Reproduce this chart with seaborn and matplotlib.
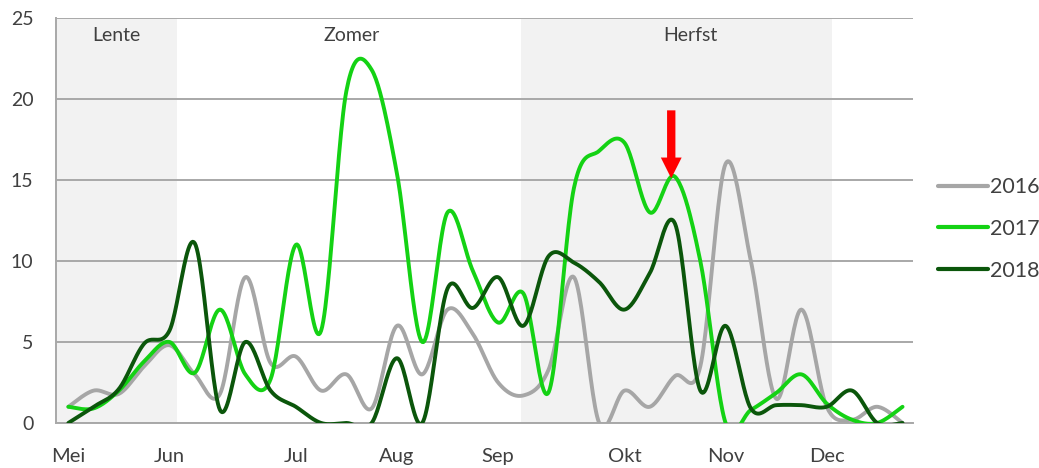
import matplotlib
matplotlib.use("Agg")
import matplotlib.pyplot as plt
import numpy as np
import pandas as pd
import seaborn as sns
from matplotlib.lines import Line2D

# weekly values (first week of May .. end of December)
y2016 = [1.0, 2.0, 1.8, 3.5, 4.8, 3.0, 1.8, 9.0, 3.7, 4.1, 2.0, 3.0, 0.9, 6.0, 3.0, 7.0, 5.5,
         2.5, 1.7, 3.3, 9.0, 0.0, 2.0, 1.0, 2.9, 3.5, 16.0, 10.0, 1.5, 7.0, 1.0, 0.2, 1.0, 0.0]
y2017 = [1.0, 0.9, 2.0, 3.8, 5.0, 3.1, 7.0, 3.0, 2.7, 11.0, 5.7, 20.5, 21.8, 15.4, 5.0, 13.0, 9.4,
         6.2, 8.0, 1.9, 14.5, 16.8, 17.3, 13.0, 15.2, 10.0, 0.0, 0.8, 1.85, 3.0, 1.2, 0.2, 0.0, 1.0]
y2018 = [0.0, 1.0, 2.1, 4.9, 5.7, 11.1, 0.8, 5.0, 2.0, 1.0, 0.0, 0.0, 0.0, 4.0, 0.0, 8.3, 7.1,
         9.0, 6.0, 10.3, 9.9, 8.7, 7.0, 9.25, 12.3, 2.0, 6.0, 0.9, 1.1, 1.1, 1.0, 2.0, 0.0, 0.0]

years = ["2016", "2017", "2018"]
colors = ["#a6a6a6", "#14d214", "#0b560b"]

month_names = ["Mei", "Jun", "Jul", "Aug", "Sep", "Okt", "Nov", "Dec"]
month_weeks = [0, 4, 9, 13, 17, 22, 26, 30]

season_names = ["Lente", "Zomer", "Herfst"]
season_label_x = [1.9, 11.2, 24.6]
shaded_spans = [(-0.5, 4.3), (17.9, 30.2)]

arrow_week = 23.85
arrow_value = 15.1


def smooth(values, n=24):
    """Excel-style smoothed line: cubic Bezier through each pair of points."""
    pts = np.column_stack([np.arange(len(values)), np.asarray(values, float)])
    last = len(pts) - 1
    t = np.linspace(0, 1, n, endpoint=False)[:, None]
    segs = []
    for i in range(last):
        p0, p1, p2, p3 = pts[max(i - 1, 0)], pts[i], pts[i + 1], pts[min(i + 2, last)]
        c1 = p1 + (p2 - p0) / 6
        c2 = p2 - (p3 - p1) / 6
        segs.append((1 - t) ** 3 * p1 + 3 * (1 - t) ** 2 * t * c1
                    + 3 * (1 - t) * t ** 2 * c2 + t ** 3 * p2)
    segs.append(pts[-1:])
    return np.vstack(segs)


frames = []
for year, vals in zip(years, [y2016, y2017, y2018]):
    c = smooth(vals)
    frames.append(pd.DataFrame({"week": c[:, 0], "value": c[:, 1], "year": year}))
df = pd.concat(frames, ignore_index=True)

sns.set_theme(style="white")
plt.rcParams["font.family"] = ["Lato", "DejaVu Sans"]
text_color = "#404040"

fig = plt.figure(figsize=(10.39, 4.68), dpi=100)
ax = fig.add_axes([0.0536, 0.0962, 0.8248, 0.8653])

for a, b in shaded_spans:
    ax.axvspan(a, b, color="#f2f2f2", zorder=0, lw=0)

ax.set_axisbelow(True)
ax.yaxis.grid(True, color="#a8a8a8", lw=1.4, zorder=1)

sns.lineplot(data=df, x="week", y="value", hue="year", palette=colors,
             estimator=None, sort=False, lw=2.8, legend=False, ax=ax, zorder=3)

ax.set_xlim(-0.5, 33.4)
ax.set_ylim(0, 25)
ax.set_yticks([0, 5, 10, 15, 20, 25])
ax.set_xticks(month_weeks)
ax.set_xticklabels(month_names)
ax.set_xlabel("")
ax.set_ylabel("")
ax.tick_params(axis="y", length=0, pad=16, labelsize=14, labelcolor=text_color)
ax.tick_params(axis="x", length=0, pad=18, labelsize=14.5, labelcolor=text_color)

for side in ["top", "right"]:
    ax.spines[side].set_visible(False)
for side in ["left", "bottom"]:
    ax.spines[side].set_color("#a8a8a8")
    ax.spines[side].set_linewidth(1.4)

for name, x in zip(season_names, season_label_x):
    ax.text(x, 23.9, name, ha="center", va="center", fontsize=14, color=text_color)

ax.annotate("", xy=(arrow_week, arrow_value), xytext=(arrow_week, 19.3),
            arrowprops=dict(facecolor="#ff0000", edgecolor="none", width=6,
                            headwidth=15, headlength=15, shrink=0), zorder=5)

handles = [Line2D([0], [0], color=c, lw=3) for c in colors]
fig.legend(handles, years, loc="center left", bbox_to_anchor=(938 / 1039, 1 - 229 / 468),
           frameon=False, fontsize=15.5, handlelength=2.3, handletextpad=0.1,
           labelspacing=1.0, borderpad=0, borderaxespad=0, labelcolor=text_color)

fig.savefig("out.png", dpi=100)
